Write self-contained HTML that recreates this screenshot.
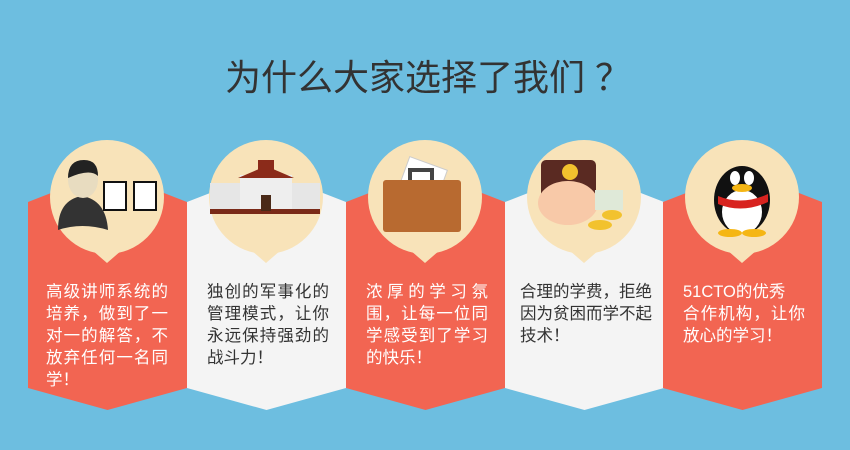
<!DOCTYPE html>
<html><head><meta charset="utf-8">
<style>
body{margin:0;width:850px;height:450px;overflow:hidden;background:#6dbee0;font-family:"Liberation Sans","Noto Sans CJK SC",sans-serif;position:relative}
.t{position:absolute;font-size:36px;color:#333;left:0;width:856px;text-align:center;top:56px;line-height:44px;letter-spacing:0px}
.txt{position:absolute;width:122px;font-size:16.5px;line-height:22px}
.txt div{text-align:justify;text-align-last:justify;white-space:nowrap;height:22px}
.txt div.l{text-align-last:left}
.w{color:#fff}.d{color:#333}
</style></head><body>
<svg width="850" height="450" style="position:absolute;left:0;top:0">
<g>
<polygon points="28,202 107.5,171 187,202 187,388 107.5,410 28,388" fill="#f26552"/>
<polygon points="187,202 266.5,171 346,202 346,388 266.5,410 187,388" fill="#f4f4f4"/>
<polygon points="346,202 425.5,171 505,202 505,388 425.5,410 346,388" fill="#f26552"/>
<polygon points="505,202 584.5,171 664,202 664,388 584.5,410 505,388" fill="#f4f4f4"/>
<polygon points="663,202 742.5,171 822,202 822,388 742.5,410 663,388" fill="#f26552"/>
</g>
<g fill="#f8e3b9">
<g><circle cx="107" cy="197" r="57"/><polygon points="92,250 107,263 122,250"/></g>
<g><circle cx="266" cy="197" r="57"/><polygon points="251,250 266,263 281,250"/></g>
<g><circle cx="425" cy="197" r="57"/><polygon points="410,250 425,263 440,250"/></g>
<g><circle cx="584" cy="197" r="57"/><polygon points="569,250 584,263 599,250"/></g>
<g><circle cx="742" cy="197" r="57"/><polygon points="727,250 742,263 757,250"/></g>
</g>
<g>
<path d="M58,230 Q58,200 82,196 Q106,200 108,230 Q82,222 58,230Z" fill="#333"/>
<ellipse cx="83" cy="180" rx="15" ry="18" fill="#e8dcc0"/>
<path d="M68,178 Q68,160 84,160 Q98,160 98,176 Q90,168 68,178Z" fill="#222"/>
<rect x="104" y="182" width="22" height="28" fill="#fff" stroke="#111" stroke-width="2"/>
<rect x="134" y="182" width="22" height="28" fill="#fff" stroke="#111" stroke-width="2"/>
</g>
<g>
<rect x="210" y="183" width="110" height="30" fill="#e6e6e6"/>
<rect x="240" y="175" width="52" height="38" fill="#eee"/>
<polygon points="238,178 266,166 294,178" fill="#8b2b1a"/>
<rect x="258" y="160" width="16" height="12" fill="#8b2b1a"/>
<rect x="210" y="209" width="110" height="5" fill="#7a2a18"/>
<rect x="261" y="195" width="10" height="16" fill="#4a2a18"/>
</g>
<g>
<rect x="400" y="162" width="40" height="50" fill="#fff" stroke="#ccc" transform="rotate(20 420 187)"/>
<rect x="383" y="180" width="78" height="52" rx="3" fill="#b86a30"/>
<path d="M410,180 v-10 h22 v10" fill="none" stroke="#444" stroke-width="4"/>
</g>
<g>
<rect x="541" y="160" width="55" height="40" rx="5" fill="#5a2a22"/>
<ellipse cx="568" cy="203" rx="30" ry="22" fill="#f8c9a8"/>
<circle cx="570" cy="172" r="8" fill="#f2c22e"/>
<ellipse cx="600" cy="225" rx="12" ry="5" fill="#f2c22e"/>
<ellipse cx="612" cy="215" rx="10" ry="5" fill="#f2c22e"/>
<rect x="595" y="190" width="28" height="20" fill="#dfe9d8"/>
</g>
<g>
<ellipse cx="742" cy="200" rx="28" ry="34" fill="#111"/>
<ellipse cx="742" cy="212" rx="20" ry="22" fill="#fff"/>
<ellipse cx="735" cy="178" rx="5" ry="7" fill="#fff"/><ellipse cx="749" cy="178" rx="5" ry="7" fill="#fff"/>
<ellipse cx="742" cy="188" rx="10" ry="4" fill="#f5b614"/>
<path d="M718,196 Q742,206 768,194 L768,202 Q742,214 718,204Z" fill="#d8231f"/>
<ellipse cx="730" cy="233" rx="12" ry="4" fill="#f5b614"/><ellipse cx="754" cy="233" rx="12" ry="4" fill="#f5b614"/>
</g>
</svg>
<div class="t">为什么大家选择了我们<span style="margin-left:10px">？</span></div>
<div class="txt w" style="left:46px;top:281px"><div>高级讲师系统的</div><div>培养，做到了一</div><div>对一的解答，不</div><div>放弃任何一名同</div><div class="l">学！</div></div>
<div class="txt d" style="left:207px;top:281px"><div>独创的军事化的</div><div>管理模式，让你</div><div>永远保持强劲的</div><div class="l">战斗力！</div></div>
<div class="txt w" style="left:366px;top:281px"><div>浓厚的学习氛</div><div>围，让每一位同</div><div>学感受到了学习</div><div class="l">的快乐！</div></div>
<div class="txt d" style="left:520px;top:281px"><div>合理的学费，拒绝</div><div>因为贫困而学不起</div><div class="l">技术！</div></div>
<div class="txt w" style="left:683px;top:281px"><div class="l">51CTO的优秀</div><div>合作机构，让你</div><div class="l">放心的学习！</div></div>
</body></html>
